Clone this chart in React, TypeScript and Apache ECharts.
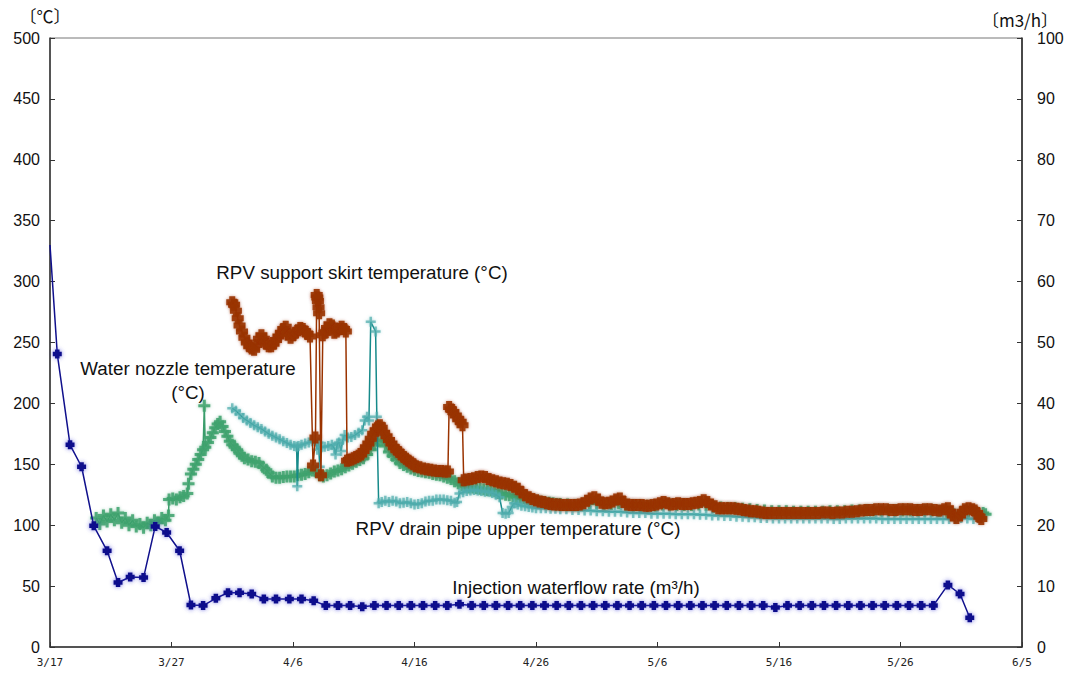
import React, { useEffect, useRef } from 'react';
import * as echarts from 'echarts';

// x = days elapsed since 3/17
const X_TICK_LABELS = ['3/17', '3/27', '4/6', '4/16', '4/26', '5/6', '5/16', '5/26', '6/5'];

// Injection waterflow rate (m3/h), right axis
const injectionFlow: [number, number][] = [
  [0, 66], [0.6, 48.1], [1.65, 33.2], [2.6, 29.6], [3.6, 19.9], [4.7, 15.8], [5.6, 10.6], [6.6, 11.5],
  [7.7, 11.4], [8.66, 19.8], [9.6, 18.8], [10.67, 15.8], [11.6, 6.9], [12.6, 6.8], [13.65, 8.0],
  [14.65, 8.9], [15.6, 8.9], [16.6, 8.7], [17.6, 7.9], [18.6, 7.9], [19.7, 7.9], [20.7, 7.9],
  [21.7, 7.6], [22.7, 6.8], [23.7, 6.8], [24.7, 6.8], [25.7, 6.6], [26.7, 6.8], [27.7, 6.8],
  [28.7, 6.8], [29.7, 6.8], [30.7, 6.8], [31.7, 6.8], [32.7, 6.8], [33.7, 7.0], [34.7, 6.8],
  [35.7, 6.8], [36.7, 6.8], [37.7, 6.8], [38.7, 6.8], [39.7, 6.8], [40.7, 6.8], [41.7, 6.8],
  [42.7, 6.8], [43.7, 6.8], [44.7, 6.8], [45.7, 6.8], [46.7, 6.8], [47.7, 6.8], [48.7, 6.8],
  [49.7, 6.8], [50.7, 6.8], [51.7, 6.8], [52.7, 6.8], [53.7, 6.8], [54.7, 6.8], [55.7, 6.8],
  [56.7, 6.8], [57.7, 6.8], [58.7, 6.8], [59.7, 6.5], [60.7, 6.8], [61.7, 6.8], [62.7, 6.8],
  [63.7, 6.8], [64.7, 6.8], [65.7, 6.8], [66.7, 6.8], [67.7, 6.8], [68.7, 6.8], [69.7, 6.8],
  [70.7, 6.8], [71.7, 6.8], [72.7, 6.8], [73.9, 10.2], [74.9, 8.7], [75.7, 4.8],
];

// Water nozzle temperature (°C)
const waterNozzleTemp: [number, number][] = [
  [3.8, 106], [4.1, 101], [4.4, 108], [4.7, 103], [5.0, 109], [5.3, 104], [5.6, 110], [5.9, 102],
  [6.2, 106], [6.5, 100], [6.8, 104], [7.1, 99], [7.4, 101], [7.7, 98], [8.0, 102], [8.3, 100],
  [8.6, 104], [8.9, 102], [9.2, 106], [9.5, 104], [9.75, 108], [9.8, 121], [10.1, 122], [10.4, 121],
  [10.7, 123], [11.0, 124], [11.3, 126], [11.4, 134], [11.6, 142], [11.8, 146], [12.0, 150],
  [12.2, 154], [12.4, 158], [12.6, 162], [12.7, 198], [12.78, 164], [13.0, 168], [13.2, 172],
  [13.4, 176], [13.6, 180], [13.8, 183], [14.0, 185], [14.2, 181], [14.4, 177], [14.6, 173],
  [14.8, 169], [15.0, 166], [15.2, 164], [15.4, 162], [15.6, 159], [15.8, 157], [16.0, 155],
  [16.3, 154], [16.6, 152.5], [16.9, 152], [17.2, 151], [17.5, 148], [17.8, 145.5], [18.0, 143],
  [18.3, 140], [18.6, 139], [18.9, 139], [19.2, 139.5], [19.5, 140], [19.8, 140], [20.1, 140],
  [20.4, 141], [20.7, 141.5], [21.0, 142], [21.3, 143.5], [21.6, 145], [21.9, 144], [22.2, 141],
  [22.5, 140], [22.8, 141], [23.1, 142.5], [23.4, 144], [23.7, 145], [24.0, 146], [24.3, 147.5],
  [24.6, 149], [24.9, 150.5], [25.2, 152], [25.5, 153.5], [25.8, 155], [26.1, 158], [26.4, 162],
  [26.7, 166], [27.0, 169], [27.3, 170], [27.6, 165], [27.9, 160], [28.2, 157], [28.5, 154],
  [28.8, 151], [29.1, 149.5], [29.4, 148], [29.7, 146.5], [30.0, 145.5], [30.3, 144.5], [30.6, 144],
  [30.9, 143.5], [31.2, 143], [31.5, 142], [31.8, 141.5], [32.1, 141], [32.4, 140], [32.7, 139],
  [33.0, 138], [33.3, 136], [33.6, 134.5], [33.9, 133], [34.2, 132], [34.5, 131], [34.8, 131],
  [35.1, 130.5], [35.4, 130], [35.7, 129.5], [36.0, 129], [36.3, 128.5], [36.6, 128], [36.9, 126.5],
  [37.2, 126], [37.5, 125], [37.8, 124.5], [38.1, 124], [38.4, 123], [38.7, 122.5], [39.0, 122],
  [39.3, 121.5], [39.6, 121], [39.9, 120], [40.2, 119.5], [40.5, 119], [40.8, 118.5], [41.1, 118.5],
  [41.4, 118], [41.7, 117.5], [42.0, 117.5], [42.6, 117], [43.2, 116.5], [43.8, 117], [44.4, 118],
  [45.0, 118], [45.6, 117], [46.2, 117.5], [46.8, 118], [47.4, 116.5], [48.0, 116], [48.6, 115.5],
  [49.2, 115.5], [49.8, 116], [50.4, 117], [51.0, 117], [51.6, 116.5], [52.2, 116.5], [52.8, 116.5],
  [53.4, 117], [54.0, 116.5], [54.6, 115], [55.2, 114.5], [55.8, 114], [56.4, 114], [57.0, 113.5],
  [57.6, 113], [58.2, 112.5], [58.8, 112], [59.4, 111.5], [60.0, 111.5], [60.6, 111.5], [61.2, 111],
  [61.8, 111], [62.4, 111], [63.0, 111], [63.6, 111], [64.2, 111.5], [64.8, 111.5], [65.4, 111.5],
  [66.0, 112], [66.6, 112], [67.2, 112], [67.8, 112], [68.4, 112], [69.0, 112], [69.6, 112],
  [70.2, 112], [70.8, 112], [71.4, 112], [72.0, 112], [72.6, 112], [73.2, 111.5], [73.8, 111],
  [74.4, 109], [75.0, 110], [75.6, 111], [76.2, 110.5], [76.8, 110], [77.0, 109],
];

// RPV drain pipe upper temperature (°C)
const drainPipeTemp: [number, number][] = [
  [15.0, 196], [15.3, 194], [15.6, 191], [15.9, 188], [16.2, 186], [16.5, 184], [16.8, 182],
  [17.1, 180.5], [17.4, 179], [17.7, 177], [18.0, 175], [18.3, 173.5], [18.6, 172], [18.9, 170.5],
  [19.2, 169], [19.5, 167.5], [19.8, 166], [20.1, 165], [20.3, 164.5], [20.35, 132], [20.45, 165],
  [20.7, 166], [21.0, 167], [21.3, 168], [21.6, 169], [21.8, 170], [22.0, 162], [22.1, 168],
  [22.2, 148], [22.35, 164], [22.6, 164.5], [22.9, 165], [23.2, 166], [23.4, 163], [23.5, 158],
  [23.65, 167], [23.8, 168], [23.95, 161], [24.1, 170], [24.25, 174], [24.5, 172], [24.8, 172.5],
  [25.1, 174], [25.4, 176], [25.7, 178], [25.9, 186], [26.1, 189], [26.25, 186], [26.4, 267],
  [26.8, 259], [26.9, 189], [27.05, 118], [27.3, 119], [27.6, 120], [27.9, 119], [28.2, 120],
  [28.5, 119.5], [28.8, 118], [29.1, 118.5], [29.4, 119], [29.7, 118], [30.0, 117], [30.3, 117.5],
  [30.6, 118], [30.9, 119.5], [31.2, 120], [31.5, 120], [31.8, 121], [32.1, 121], [32.4, 121],
  [32.7, 120.5], [33.0, 120], [33.3, 118.5], [33.5, 119], [33.7, 126], [34.0, 127], [34.3, 128],
  [34.6, 128.5], [34.9, 129], [35.2, 128.5], [35.5, 128], [35.8, 127.5], [36.1, 127.5], [36.4, 126.5],
  [36.7, 125], [37.0, 123], [37.25, 110], [37.5, 109.5], [37.75, 110], [38.0, 115], [38.2, 118],
  [38.5, 117], [38.8, 116], [39.1, 115.5], [39.4, 115], [39.7, 114.5], [40.0, 114], [40.4, 114],
  [40.8, 114], [41.2, 113.5], [41.6, 113.5], [42.0, 113], [42.5, 113], [43.0, 112.5], [43.5, 112.5],
  [44.0, 112], [44.5, 112], [45.0, 111.5], [45.5, 111.5], [46.0, 111], [46.5, 111], [47.0, 111],
  [47.5, 110.5], [48.0, 110], [48.5, 110], [49.0, 110], [49.5, 109.5], [50.0, 109.5], [50.5, 109.5],
  [51.0, 109.5], [51.5, 109], [52.0, 109], [52.5, 109], [53.0, 109], [53.5, 108.5], [54.0, 108.5],
  [54.5, 108], [55.0, 108], [55.5, 107.5], [56.0, 107.5], [56.5, 107], [57.0, 107], [57.5, 106.5],
  [58.0, 106.5], [58.5, 106], [59.0, 106], [59.5, 105.5], [60.0, 105.5], [60.5, 105.5], [61.0, 105.5],
  [61.5, 105.5], [62.0, 105.5], [62.5, 105.5], [63.0, 105.5], [63.5, 105.5], [64.0, 105.5],
  [64.5, 105], [65.0, 105], [65.5, 105.5], [66.0, 105.5], [66.5, 105.5], [67.0, 105.5], [67.5, 105.5],
  [68.0, 105.5], [68.5, 105], [69.0, 105], [69.5, 105], [70.0, 105], [70.5, 105], [71.0, 105],
  [71.5, 105], [72.0, 105], [72.5, 105], [73.0, 105], [73.5, 105], [74.0, 105], [74.5, 105.5],
  [75.0, 106], [75.5, 105.5], [76.0, 105], [76.4, 106], [76.7, 107],
];

// RPV support skirt temperature (°C)
const supportSkirtTemp: [number, number][] = [
  [15.0, 283], [15.15, 281], [15.3, 276], [15.45, 270], [15.6, 264], [15.8, 259], [16.0, 254],
  [16.2, 250], [16.4, 247], [16.6, 245], [16.8, 244], [17.0, 248], [17.2, 253], [17.4, 256],
  [17.6, 253], [17.8, 249], [18.0, 247], [18.2, 247], [18.4, 249], [18.6, 252], [18.8, 255],
  [19.0, 258], [19.2, 261], [19.4, 263], [19.6, 257], [19.8, 254], [20.0, 256], [20.2, 258],
  [20.4, 260], [20.6, 262], [20.8, 261], [21.0, 259], [21.2, 257], [21.4, 255], [21.65, 149],
  [21.85, 172], [21.95, 289], [22.0, 287], [22.05, 284], [22.1, 279], [22.15, 274], [22.3, 141],
  [22.45, 256], [22.6, 258], [22.8, 262], [23.0, 265], [23.2, 264], [23.4, 258], [23.6, 259],
  [23.8, 261], [24.0, 263], [24.2, 261], [24.35, 259], [24.45, 153], [24.6, 153.5], [24.8, 154],
  [25.0, 155], [25.2, 156], [25.4, 157], [25.6, 158], [25.8, 161], [26.0, 164], [26.2, 167],
  [26.4, 171], [26.6, 175], [26.8, 178], [27.0, 181], [27.15, 182], [27.3, 180], [27.5, 176],
  [27.7, 173], [27.9, 170], [28.1, 167], [28.3, 164], [28.5, 162], [28.7, 160], [28.9, 158],
  [29.1, 156], [29.3, 154.5], [29.5, 153], [29.7, 151.5], [29.9, 150], [30.1, 148.5], [30.4, 147.5],
  [30.7, 146.5], [31.0, 146], [31.3, 145.5], [31.6, 145], [31.9, 144.5], [32.2, 144.5], [32.5, 144],
  [32.75, 144], [32.85, 197], [33.0, 195], [33.2, 193], [33.4, 190], [33.6, 187], [33.8, 185],
  [33.95, 182], [34.05, 137], [34.3, 137.5], [34.6, 138], [34.9, 138.5], [35.2, 139.5], [35.5, 140],
  [35.8, 139.5], [36.1, 138], [36.4, 137], [36.7, 136], [37.0, 135], [37.3, 134.5], [37.6, 134],
  [37.9, 133], [38.2, 131.5], [38.5, 130], [38.8, 127], [39.1, 124.5], [39.4, 123], [39.7, 121.5],
  [40.0, 120.5], [40.3, 119.5], [40.6, 119], [40.9, 118], [41.2, 117.5], [41.5, 117], [41.8, 117],
  [42.1, 116.5], [42.4, 116.5], [42.7, 116.5], [43.0, 116.5], [43.3, 116.5], [43.6, 117], [43.9, 118],
  [44.2, 120], [44.5, 122], [44.8, 123], [45.1, 121], [45.4, 118.5], [45.7, 118], [46.0, 118.5],
  [46.3, 119.5], [46.6, 121], [46.9, 122], [47.2, 119], [47.5, 117], [47.8, 116.5], [48.1, 116.5],
  [48.4, 116.5], [48.7, 116.5], [49.0, 116], [49.3, 116], [49.6, 116.5], [49.9, 117], [50.2, 118],
  [50.5, 119], [50.8, 118], [51.1, 117], [51.4, 117.5], [51.7, 118], [52.0, 117.5], [52.3, 117.5],
  [52.6, 117.5], [52.9, 118], [53.2, 118.5], [53.5, 119], [53.8, 120.5], [54.1, 119], [54.4, 117],
  [54.7, 115.5], [55.0, 114], [55.3, 114], [55.6, 114], [55.9, 114], [56.2, 114], [56.5, 113.5],
  [56.8, 113], [57.1, 112.5], [57.4, 112], [57.7, 111.5], [58.0, 111.5], [58.3, 111], [58.6, 110.5],
  [58.9, 110], [59.2, 110], [59.6, 110], [60.0, 110], [60.4, 110], [60.8, 110], [61.2, 110],
  [61.6, 110], [62.0, 110], [62.4, 110], [62.8, 110], [63.2, 110], [63.6, 110.5], [64.0, 110.5],
  [64.4, 110], [64.8, 110.5], [65.2, 110.5], [65.6, 111], [66.0, 111], [66.4, 111.5], [66.8, 112],
  [67.2, 112.5], [67.6, 112.5], [68.0, 113], [68.4, 113], [68.8, 113], [69.2, 112.5], [69.6, 112.5],
  [70.0, 113], [70.4, 113], [70.8, 113], [71.2, 112.5], [71.6, 112.5], [72.0, 113], [72.4, 113],
  [72.8, 112.5], [73.2, 112], [73.6, 113], [73.9, 114], [74.1, 111], [74.3, 108], [74.6, 106],
  [74.9, 108], [75.1, 111], [75.3, 113], [75.6, 114], [75.9, 113], [76.1, 112], [76.3, 110],
  [76.5, 107], [76.65, 105],
];

const SERIES_LABELS = {
  skirt: 'RPV support skirt temperature (°C)',
  nozzle1: 'Water nozzle temperature',
  nozzle2: '(°C)',
  drain: 'RPV drain pipe upper temperature (°C)',
  flow: 'Injection waterflow rate (m³/h)',
};

const PLUS = 'path://M3,0H5V3H8V5H5V8H3V5H0V3H3Z';
const FAT_PLUS = 'path://M2,0H6V2H8V6H6V8H2V6H0V2H2Z';
const TEXT_FONT = '18.8px "Liberation Sans", Arial, sans-serif';

function label(text: string, x: number, y: number, font = TEXT_FONT) {
  return {
    type: 'text',
    x,
    y,
    z: 100,
    style: {
      text,
      font,
      fill: '#111',
      align: 'center',
      verticalAlign: 'middle',
      textAlign: 'center',
      textVerticalAlign: 'middle',
    },
  };
}

export default function App() {
  const ref = useRef<HTMLDivElement>(null);
  useEffect(() => {
    const chart = echarts.init(ref.current!, null, { renderer: 'svg' });
    const option: any = {
      animation: false,
      backgroundColor: '#fff',
      grid: {
        left: 50, right: 50, top: 38, bottom: 28,
        show: true, borderColor: '#777', borderWidth: 1, backgroundColor: 'transparent',
      },
      xAxis: {
        type: 'value', min: 0, max: 80, interval: 10,
        axisLine: { show: true, lineStyle: { color: '#333', width: 1.5 } },
        axisTick: { show: true, inside: true, length: 5, lineStyle: { color: '#333' } },
        splitLine: { show: false },
        axisLabel: {
          margin: 10, fontSize: 11, color: '#222', fontFamily: '"DejaVu Sans Mono", monospace',
          formatter: (v: number) => X_TICK_LABELS[Math.round(v / 10)] ?? '',
        },
      },
      yAxis: [
        {
          type: 'value', min: 0, max: 500, interval: 50,
          axisLine: { show: true, lineStyle: { color: '#333', width: 1.5 } },
          axisTick: { show: true, inside: true, length: 5, lineStyle: { color: '#333' } },
          splitLine: { show: false },
          axisLabel: { margin: 10, fontSize: 16, color: '#111', fontFamily: '"Liberation Sans", Arial, sans-serif' },
        },
        {
          type: 'value', min: 0, max: 100, interval: 10, position: 'right',
          axisLine: { show: true, lineStyle: { color: '#222', width: 1.5 } },
          axisTick: { show: true, inside: true, length: 5, lineStyle: { color: '#333' } },
          splitLine: { show: false },
          axisLabel: { margin: 15, fontSize: 16, color: '#111', fontFamily: '"Liberation Sans", Arial, sans-serif' },
        },
      ],
      series: [
        {
          name: 'nozzle', type: 'line', data: waterNozzleTemp, yAxisIndex: 0,
          symbol: PLUS, symbolSize: 12,
          lineStyle: { color: '#3a9d6b', width: 1.5 },
          itemStyle: { color: '#3fa36f', opacity: 0.85, shadowBlur: 3, shadowColor: 'rgba(58,157,107,0.6)' },
          z: 2,
        },
        {
          name: 'drain', type: 'line', data: drainPipeTemp, yAxisIndex: 0,
          symbol: PLUS, symbolSize: 10,
          lineStyle: { color: '#168a8a', width: 1.5 },
          itemStyle: { color: '#4fadad', opacity: 0.7, shadowBlur: 3, shadowColor: 'rgba(79,173,173,0.6)' },
          z: 3,
        },
        {
          name: 'skirt', type: 'line', data: supportSkirtTemp, yAxisIndex: 0,
          symbol: FAT_PLUS, symbolSize: 12,
          lineStyle: { color: '#9a3300', width: 1.5 },
          itemStyle: { color: '#993300', opacity: 0.9, shadowBlur: 3, shadowColor: 'rgba(153,51,0,0.5)' },
          z: 4,
        },
        {
          name: 'flow', type: 'line', yAxisIndex: 1,
          data: injectionFlow.map((p, i) => (i === 0 ? { value: p, symbol: 'none' } : p)),
          symbol: FAT_PLUS, symbolSize: 9,
          lineStyle: { color: '#10108c', width: 1.5 },
          itemStyle: { color: '#10108c', shadowBlur: 4, shadowColor: 'rgba(60,60,210,0.7)' },
          z: 5,
        },
      ],
      graphic: [
        label('〔℃〕', 45, 15, '17px "Noto Sans CJK JP", sans-serif'),
        label('〔m3/h〕', 1020, 19, '17px "Noto Sans CJK JP", sans-serif'),
        label(SERIES_LABELS.skirt, 362, 272),
        label(SERIES_LABELS.nozzle1, 188, 368),
        label(SERIES_LABELS.nozzle2, 188, 392),
        label(SERIES_LABELS.drain, 518, 528),
        label(SERIES_LABELS.flow, 576, 587),
      ],
    };
    chart.setOption(option);
    return () => chart.dispose();
  }, []);
  return (
    <div
      ref={ref}
      style={{ position: 'fixed', left: 0, top: 0, width: 1072, height: 675, background: '#fff' }}
    />
  );
}
